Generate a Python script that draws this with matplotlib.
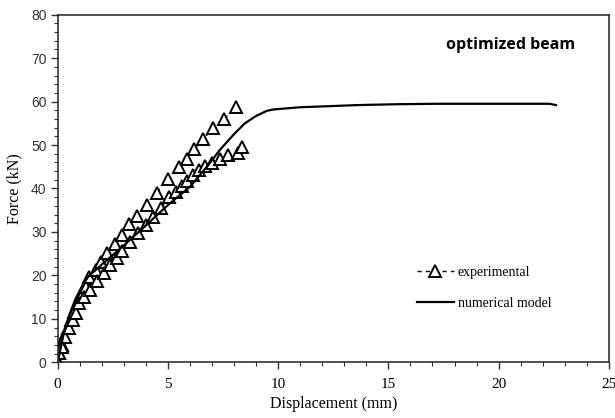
import numpy as np
import matplotlib
matplotlib.use('Agg')
import matplotlib.pyplot as plt
from matplotlib.ticker import MultipleLocator

# ---------------------- Data ----------------------
# experimental curve, upper branch
exp1_disp = [0, 0.06, 0.18, 0.30, 0.45, 0.60, 0.75, 0.91, 1.09, 1.27, 1.43, 1.72, 1.98,
             2.25, 2.58, 2.93, 3.25, 3.61, 4.04, 4.49, 5.02, 5.49, 5.86, 6.20, 6.60,
             7.04, 7.56, 8.07]
exp1_force = [0, 2.1, 4.0, 5.9, 7.8, 9.7, 11.6, 13.6, 15.5, 17.4, 19.6, 21.2, 23.1,
              25.1, 27.2, 29.4, 31.8, 33.7, 36.2, 39.0, 42.3, 45.0, 46.9, 49.2, 51.3,
              53.9, 56.0, 58.8]
# experimental curve, lower branch
exp2_disp = [0, 0.07, 0.18, 0.33, 0.53, 0.68, 0.83, 0.98, 1.19, 1.46, 1.80, 2.12, 2.37,
             2.67, 2.90, 3.28, 3.66, 4.00, 4.34, 4.67, 5.06, 5.36, 5.62, 5.88, 6.15,
             6.42, 6.68, 6.98, 7.36, 7.74, 8.16, 8.37]
exp2_force = [0, 2.1, 3.6, 5.9, 7.8, 9.7, 11.4, 13.6, 15.1, 16.6, 18.7, 20.5, 22.4,
              23.9, 25.6, 27.8, 29.7, 31.6, 33.5, 35.5, 38.1, 39.3, 40.6, 41.8, 43.1,
              44.3, 45.2, 45.8, 46.7, 47.7, 48.2, 49.5]
# numerical model
num_disp = [0, 0.25, 0.5, 0.8, 1.1, 1.4, 2.0, 3.0, 4.0, 5.0, 6.0, 6.83, 7.36, 7.96,
            8.49, 9.0, 9.5, 9.8, 11.0, 13.6, 15.4, 17.2, 22.3, 22.6]
num_force = [0, 6.0, 10.5, 14.5, 17.5, 19.8, 22.5, 26.9, 31.5, 36.2, 40.4, 45.4, 48.9,
             52.3, 55.0, 56.7, 57.9, 58.2, 58.7, 59.2, 59.4, 59.5, 59.5, 59.2]

SERIF = ['Liberation Serif', 'DejaVu Serif']
SANS = ['Liberation Sans', 'DejaVu Sans']

fig = plt.figure(figsize=(6.15, 4.18), dpi=100)
ax = fig.add_axes([0.0938, 0.1333, 0.8962, 0.8315])

mk = dict(marker='^', markersize=8, markerfacecolor='white', markeredgecolor='black',
          markeredgewidth=1.4, color='black', linestyle=(0, (3, 3)), linewidth=1.0)
ax.plot(exp1_disp, exp1_force, label='experimental', **mk)
ax.plot(exp2_disp, exp2_force, **mk)
ax.plot(num_disp, num_force, color='black', linewidth=1.6, label='numerical model')

ax.set_xlim(0, 25)
ax.set_ylim(0, 80)
ax.xaxis.set_major_locator(MultipleLocator(5))
ax.xaxis.set_minor_locator(MultipleLocator(1))
ax.yaxis.set_major_locator(MultipleLocator(10))
ax.yaxis.set_minor_locator(MultipleLocator(2))
ax.tick_params(which='major', direction='out', length=5, width=1, color='#333333')
ax.tick_params(which='minor', direction='out', length=3, width=0.8, color='#333333')
ax.tick_params(axis='x', labelsize=11, pad=6)
ax.tick_params(axis='y', labelsize=10, pad=3, labelcolor='#333333')
for lab in ax.get_xticklabels():
    lab.set_family(SERIF)
for lab in ax.get_yticklabels():
    lab.set_family(SANS)
for sp in ax.spines.values():
    sp.set_linewidth(1.1)
    sp.set_color('#222222')

ax.set_xlabel('Displacement (mm)', family=SERIF, fontsize=11.5, labelpad=4)
ax.set_ylabel('Force (kN)', family=SERIF, fontsize=11.5, labelpad=6)

ax.text(0.939, 0.913, 'optimized beam', transform=ax.transAxes, ha='right', va='center',
        family=['Open Sans', 'DejaVu Sans'], fontweight='bold', fontsize=11.5)

leg = ax.legend(loc='center left', bbox_to_anchor=(0.63, 0.215), frameon=False,
                prop={'family': SERIF, 'size': 10}, handlelength=2.6,
                labelspacing=1.3, handletextpad=0.3)

fig.savefig('out.png', dpi=100)
